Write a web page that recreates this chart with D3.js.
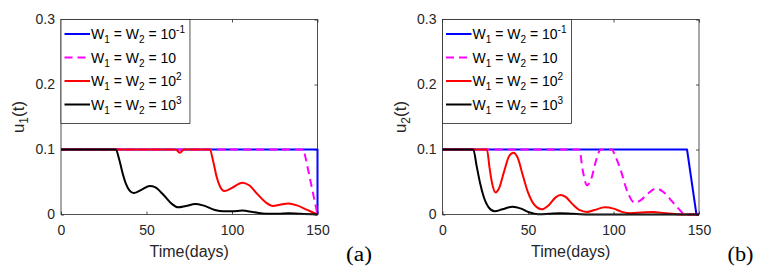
<!DOCTYPE html>
<html>
<head>
<meta charset="utf-8">
<script src="https://cdn.jsdelivr.net/npm/d3@7"></script>
<style>
  body { margin: 0; background: #fff; }
  svg { display: block; font-family: "Liberation Sans", Arial, sans-serif; }
  text { white-space: pre; }
</style>
</head>
<body>
<svg id="chart" width="767" height="272"></svg>
<script>
// axis ticks
const xTicks = [0, 50, 100, 150];
const yTicks = [0, 0.1, 0.2, 0.3];

// legend: W1 = W2 = 10^p
const legendPowers = ["-1", "", "2", "3"];

// panel (a): u1(t), [day, value]
const u1Blue = [[0, 0.1], [150, 0.1], [150, 0]];
const u1Magenta = [[0, 0.1], [142, 0.1], [150, 0]];
const u1Red = [
  [0, 0.1], [67, 0.1], [69.5, 0.095], [72, 0.1], [87, 0.1], [89, 0.082], [91, 0.058],
  [93, 0.043], [95.5, 0.036], [100, 0.041], [106, 0.049], [110, 0.045], [115, 0.031],
  [120, 0.018], [124, 0.013], [128, 0.015], [133, 0.017], [138, 0.014], [144, 0.007], [150, 0]
];
const u1Black = [
  [0, 0.1], [32, 0.1], [34, 0.085], [36, 0.064], [38, 0.047], [40, 0.037], [42.5, 0.033],
  [47, 0.038], [52, 0.044], [55, 0.042], [60, 0.03], [65, 0.016], [68.5, 0.011], [73, 0.013],
  [78.5, 0.016], [83, 0.014], [90, 0.007], [95, 0.005], [100, 0.005], [106, 0.006],
  [112, 0.004], [120, 0.001], [127, 0.001], [133, 0.002], [140, 0.001], [150, 0]
];

// panel (b): u2(t), [day, value]
const u2Blue = [[0, 0.1], [143, 0.1], [148.5, 0], [150, 0]];
const u2Magenta = [
  [0, 0.1], [80, 0.1], [82, 0.068], [84.5, 0.045], [87, 0.055], [90, 0.085], [92.5, 0.1],
  [99, 0.1], [101, 0.09], [104, 0.07], [108, 0.036], [112.5, 0.018], [116, 0.022],
  [120, 0.032], [125, 0.04], [129, 0.035], [134, 0.021], [138, 0.009], [142, 0], [150, 0]
];
const u2Red = [
  [0, 0.1], [26, 0.1], [27.5, 0.072], [29, 0.048], [31, 0.034], [33, 0.04], [36, 0.066],
  [39, 0.09], [41.5, 0.095], [44, 0.087], [47, 0.06], [50, 0.034], [54, 0.014], [58, 0.008],
  [62, 0.014], [66, 0.026], [69, 0.03], [72, 0.027], [76, 0.016], [80, 0.007], [84.5, 0.004],
  [89, 0.007], [95, 0.011], [100, 0.009], [105, 0.004], [110, 0.002], [116, 0.003],
  [123, 0.004], [130, 0.002], [137, 0.0005], [142, 0], [150, 0]
];
const u2Black = [
  [0, 0.1], [18, 0.1], [20, 0.074], [22, 0.048], [24, 0.028], [27, 0.011], [30.5, 0.005],
  [35, 0.008], [41, 0.012], [46, 0.009], [51, 0.003], [56, 0.0005], [62, 0.001],
  [69, 0.002], [76, 0.001], [85, 0], [150, 0]
];

// layout
let plotW = 256.5;
let plotH = 195;
let plotTop = 19.5;
let ink = "#262626";

let svg = d3.select("#chart");

// line styles, same order as the legend
let styles = [
  { color: "#0000ff", dash: null },
  { color: "#ff00ff", dash: "8,5" },
  { color: "#ff0000", dash: null },
  { color: "#000000", dash: null }
];

function drawPanel(left, series, sub, tag) {
  let x = d3.scaleLinear().domain([0, 150]).range([left, left + plotW]);
  let y = d3.scaleLinear().domain([0, 0.3]).range([plotTop + plotH, plotTop]);
  let g = svg.append("g");

  // ticks on all four sides, pointing inward
  let bottom = g.append("g")
    .attr("transform", "translate(0," + (plotTop + plotH) + ")")
    .call(d3.axisBottom(x).tickValues(xTicks).tickSize(-3).tickPadding(10.5).tickFormat(d3.format("d")));
  let leftAx = g.append("g")
    .attr("transform", "translate(" + left + ",0)")
    .call(d3.axisLeft(y).tickValues(yTicks).tickSize(-3).tickPadding(6).tickFormat(d => String(d)));
  let topAx = g.append("g")
    .attr("transform", "translate(0," + plotTop + ")")
    .call(d3.axisTop(x).tickValues(xTicks).tickSize(-3).tickFormat(""));
  let rightAx = g.append("g")
    .attr("transform", "translate(" + (left + plotW) + ",0)")
    .call(d3.axisRight(y).tickValues(yTicks).tickSize(-3).tickFormat(""));

  [bottom, leftAx, topAx, rightAx].forEach(function(a) {
    a.select(".domain").remove();
    a.selectAll("line").attr("stroke", ink).attr("stroke-width", 0.8);
    a.selectAll("text").attr("fill", ink).style("font-size", "14px")
      .style("font-family", '"Liberation Sans", Arial, sans-serif');
  });

  // the curves
  let line = d3.line()
    .x(d => x(d[0]))
    .y(d => y(d[1]))
    .curve(d3.curveMonotoneX);
  let straight = d3.line().x(d => x(d[0])).y(d => y(d[1]));

  series.forEach(function(s, i) {
    let smooth = s.length > 4;
    g.append("path")
      .attr("d", smooth ? line(s) : straight(s))
      .attr("fill", "none")
      .attr("stroke", styles[i].color)
      .attr("stroke-width", 2)
      .attr("stroke-dasharray", styles[i].dash)
      .attr("stroke-linejoin", "round");
  });

  // axes box
  g.append("rect")
    .attr("x", left).attr("y", plotTop)
    .attr("width", plotW).attr("height", plotH)
    .attr("fill", "none").attr("stroke", ink).attr("stroke-width", 0.8);

  // legend
  let leg = g.append("g");
  let box = leg.append("rect")
    .attr("x", left).attr("y", plotTop)
    .attr("height", 104)
    .attr("fill", "#fff").attr("stroke", ink).attr("stroke-width", 0.8);
  let maxW = 0;
  legendPowers.forEach(function(p, i) {
    let ly = 34 + i * 23.5;
    leg.append("line")
      .attr("x1", left + 3.5).attr("x2", left + 29)
      .attr("y1", ly).attr("y2", ly)
      .attr("stroke", styles[i].color)
      .attr("stroke-width", 2)
      .attr("stroke-dasharray", styles[i].dash);
    let t = leg.append("text")
      .attr("x", left + 30).attr("y", ly + 5)
      .attr("fill", "#000").style("font-size", "14px");
    t.append("tspan").text("W");
    t.append("tspan").attr("dy", 4).style("font-size", "10px").text("1");
    t.append("tspan").attr("dy", -4).text(" = W");
    t.append("tspan").attr("dy", 4).style("font-size", "10px").text("2");
    t.append("tspan").attr("dy", -4).text(" = 10");
    if (p !== "") {
      t.append("tspan").attr("dy", -6).style("font-size", "10px").text(p);
    }
    maxW = Math.max(maxW, t.node().getComputedTextLength());
  });
  box.attr("width", 30 + maxW + 5);

  // axis labels
  svg.append("text")
    .attr("x", left + plotW / 2).attr("y", 257)
    .attr("text-anchor", "middle")
    .attr("fill", ink).style("font-size", "16px")
    .text("Time(days)");

  let yl = svg.append("text")
    .attr("transform", "translate(" + (left - 37) + "," + (plotTop + plotH / 2) + ") rotate(-90)")
    .attr("text-anchor", "middle")
    .attr("fill", ink).style("font-size", "17px");
  yl.append("tspan").text("u");
  yl.append("tspan").attr("dy", 4).style("font-size", "12px").text(sub);
  yl.append("tspan").attr("dy", -4).text("(t)");

  // panel tag, the original is drawn a little wide
  svg.append("text")
    .attr("x", left + plotW + 41.5).attr("y", 260.5)
    .attr("text-anchor", "middle")
    .attr("textLength", 26)
    .attr("lengthAdjust", "spacingAndGlyphs")
    .style("font-family", '"Liberation Serif", "Times New Roman", serif')
    .style("font-size", "20px")
    .attr("fill", "#000")
    .text(tag);
}

drawPanel(61, [u1Blue, u1Magenta, u1Red, u1Black], "1", "(a)");
drawPanel(442.5, [u2Blue, u2Magenta, u2Red, u2Black], "2", "(b)");
</script>
</body>
</html>
